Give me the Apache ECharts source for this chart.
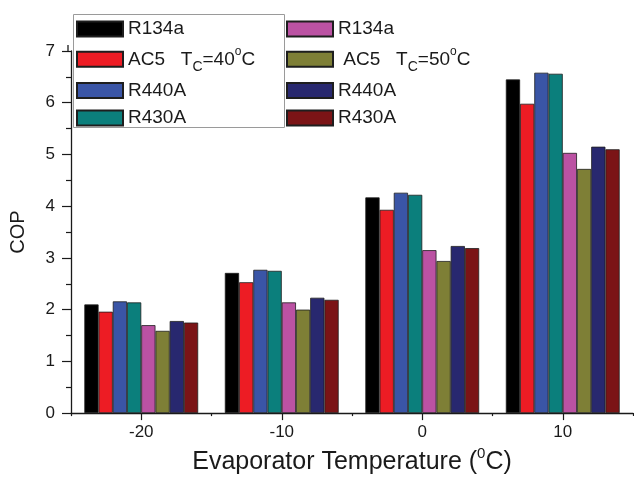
<!DOCTYPE html>
<html>
<head>
<meta charset="utf-8">
<script src="https://cdn.jsdelivr.net/npm/echarts@6/dist/echarts.min.js"></script>
<style>html,body{margin:0;padding:0;background:#fff;}#c{width:634px;height:480px;}</style>
</head>
<body>
<div id="c"></div>
<script>
var categories = ['-20', '-10', '0', '10'];
var yTicks = [0, 1, 2, 3, 4, 5, 6, 7];

var r134a_40 = [2.10, 2.71, 4.17, 6.45];
var ac5_40   = [1.96, 2.53, 3.93, 5.98];
var r440a_40 = [2.16, 2.77, 4.26, 6.58];
var r430a_40 = [2.14, 2.75, 4.22, 6.56];
var r134a_50 = [1.70, 2.14, 3.15, 5.03];
var ac5_50   = [1.59, 2.00, 2.94, 4.72];
var r440a_50 = [1.78, 2.23, 3.23, 5.15];
var r430a_50 = [1.75, 2.19, 3.19, 5.10];

var seriesDefs = [
  {id: 'R134a_40', label: 'R134a', data: r134a_40, color: '#000000'},
  {id: 'AC5_40', label: 'AC5   T{sub|C}={n|40}{sup|o}C', data: ac5_40, color: '#ed1c24'},
  {id: 'R440A_40', label: 'R440A', data: r440a_40, color: '#3a55a6'},
  {id: 'R430A_40', label: 'R430A', data: r430a_40, color: '#0b7f7c'},
  {id: 'R134a_50', label: 'R134a', data: r134a_50, color: '#bb52a3'},
  {id: 'AC5_50', label: ' AC5   T{sub|C}={n|50}{sup|o}C', data: ac5_50, color: '#7e7f36'},
  {id: 'R440A_50', label: 'R440A', data: r440a_50, color: '#28286f'},
  {id: 'R430A_50', label: 'R430A', data: r430a_50, color: '#7b1416'}
];
var labelMap = {};
seriesDefs.forEach(function (s) { labelMap[s.id] = s.label; });

var FONT = '"Liberation Sans", Arial, sans-serif';
var richLegend = {
  n: {fontSize: 19, fontFamily: FONT, color: '#1a1a1a', lineHeight: 22},
  sub: {fontSize: 14, fontFamily: FONT, color: '#1a1a1a', lineHeight: 14, verticalAlign: 'bottom', padding: [0, 0, -4, 0]},
  sup: {fontSize: 12, fontFamily: FONT, color: '#1a1a1a', lineHeight: 12, verticalAlign: 'top', padding: [-3, 0, 0, 0]}
};
function legendCfg(ids, left) {
  return {
    orient: 'vertical',
    left: left,
    top: 18,
    padding: 0,
    itemGap: 5.3,
    itemWidth: 46,
    itemHeight: 15,
    icon: 'rect',
    selectedMode: false,
    data: ids,
    formatter: function (name) { return labelMap[name]; },
    textStyle: {fontSize: 19, fontFamily: FONT, color: '#1a1a1a', lineHeight: 22, rich: richLegend}
  };
}

var chart = echarts.init(document.getElementById('c'), null, {renderer: 'canvas'});
var option = {
  animation: false,
  backgroundColor: '#ffffff',
  grid: {left: 68, right: 1, top: 51, bottom: 65.5, containLabel: false},
  legend: [
    legendCfg(['R134a_40', 'AC5_40', 'R440A_40', 'R430A_40'], 76),
    legendCfg(['R134a_50', 'AC5_50', 'R440A_50', 'R430A_50'], 286)
  ],
  graphic: [
    {type: 'rect', left: 71, top: 12, shape: {x: 0, y: 0, width: 211, height: 113}, style: {fill: 'none', stroke: '#9a9a9a', lineWidth: 1}, z: 10},
    {type: 'line', shape: {x1: 68, y1: 45, x2: 68, y2: 52}, style: {stroke: '#1a1a1a', lineWidth: 1.3}, z: 10}
  ],
  xAxis: [
    {
      type: 'category',
      data: categories,
      position: 'bottom',
      name: 'Evaporator Temperature ({sup|0}C)',
      nameLocation: 'middle',
      nameGap: 35,
      nameTextStyle: {fontSize: 25, fontFamily: FONT, color: '#1a1a1a',
        rich: {sup: {fontSize: 15, fontFamily: FONT, color: '#1a1a1a', verticalAlign: 'top', lineHeight: 15, padding: [-4, 0, 0, 0]}}},
      axisLine: {show: true, lineStyle: {color: '#1a1a1a', width: 1.3}},
      axisTick: {show: true, alignWithLabel: true, length: 7, lineStyle: {color: '#1a1a1a', width: 1.2}},
      axisLabel: {fontSize: 17, fontFamily: FONT, color: '#1a1a1a', margin: 11},
      splitLine: {show: false}
    },
    {
      type: 'category',
      data: categories,
      position: 'bottom',
      axisLine: {show: false},
      axisTick: {show: true, length: 3, lineStyle: {color: '#1a1a1a', width: 1.2}},
      axisLabel: {show: false},
      splitLine: {show: false}
    }
  ],
  yAxis: {
    type: 'value',
    min: yTicks[0],
    max: yTicks[yTicks.length - 1],
    interval: 1,
    name: 'COP',
    nameLocation: 'middle',
    nameGap: 43,
    nameTextStyle: {fontSize: 20, fontFamily: FONT, color: '#1a1a1a'},
    axisLine: {show: true, lineStyle: {color: '#1a1a1a', width: 1.3}},
    axisTick: {show: true, length: 9, lineStyle: {color: '#1a1a1a', width: 1.2}},
    minorTick: {show: true, splitNumber: 2, length: 5, lineStyle: {color: '#1a1a1a', width: 1.2}},
    axisLabel: {fontSize: 17, fontFamily: FONT, color: '#1a1a1a', margin: 16},
    splitLine: {show: false}
  },
  series: seriesDefs.map(function (s) {
    return {
      id: s.id,
      name: s.id,
      type: 'bar',
      xAxisIndex: 0,
      data: s.data,
      barGap: '0%',
      barCategoryGap: '19%',
      itemStyle: {color: s.color, borderColor: '#1e1e1e', borderWidth: 0.8}
    };
  })
};
chart.setOption(option);
</script>
</body>
</html>
